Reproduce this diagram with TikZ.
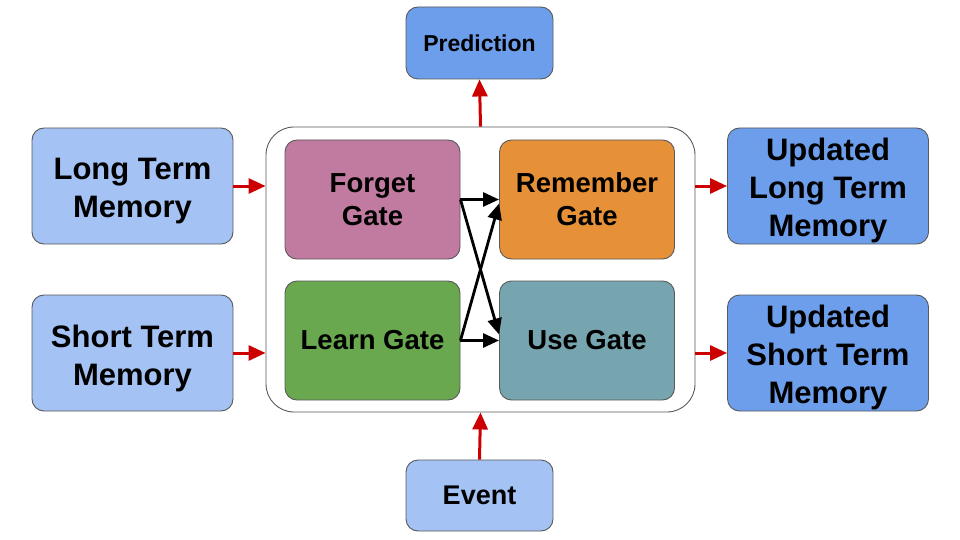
\documentclass[tikz,border=0pt]{standalone}
\usepackage{fontspec}
\setmainfont{Liberation Sans}
\usetikzlibrary{arrows.meta,calc}
\definecolor{lightblue}{HTML}{A4C2F4}
\definecolor{midblue}{HTML}{6D9EEB}
\definecolor{forgetc}{HTML}{C27BA0}
\definecolor{rememberc}{HTML}{E69138}
\definecolor{learnc}{HTML}{6AA84F}
\definecolor{usec}{HTML}{76A5AF}
\definecolor{edgec}{HTML}{595959}
\definecolor{arrowred}{HTML}{CC0000}
\tikzset{
  box/.style={draw=edgec, line width=0.9pt, rounded corners=12pt, inner sep=0pt, align=center},
  bigbox/.style={box, minimum width=201pt, minimum height=116pt},
  bigtext/.style={inner sep=0pt, align=center, font=\fontsize{31}{38}\selectfont\bfseries},
  gatebox/.style={box, minimum width=175pt, minimum height=119pt, font=\fontsize{27.5}{33}\selectfont\bfseries},
  redarrow/.style={draw=arrowred, line width=3pt, -{Triangle[length=17pt,width=15pt]}},
  blackarrow/.style={draw=black, line width=2.8pt, -{Triangle[length=16pt,width=14pt]}},
}
\begin{document}
\begin{tikzpicture}[x=1pt,y=-1pt]
\useasboundingbox (0,0) rectangle (960,540);
% container
\node[draw=edgec, line width=0.9pt, rounded corners=28pt, minimum width=429pt, minimum height=285pt, inner sep=0pt] (cont) at (480.5,269.5) {};
% side boxes
\node[bigbox, fill=lightblue] (ltm) at (132.5,186) {};
\node[bigtext] (ltmtxt) at ($(ltm.center)+(0,5)$) {Long Term\\Memory};
\node[bigbox, fill=lightblue] (stm) at (132.5,353) {};
\node[bigtext] (stmtxt) at ($(stm.center)+(0,5)$) {Short Term\\Memory};
\node[bigbox, fill=midblue] (ultm) at (828,186) {};
\node[bigtext] (ultmtxt) at ($(ultm.center)+(0,4)$) {Updated\\Long Term\\Memory};
\node[bigbox, fill=midblue] (ustm) at (828,353) {};
\node[bigtext] (ustmtxt) at ($(ustm.center)+(0,4)$) {Updated\\Short Term\\Memory};
\node[box, fill=midblue, minimum width=147pt, minimum height=72pt, font=\fontsize{23}{28}\selectfont\bfseries] (pred) at (479.5,43) {Prediction};
\node[box, fill=lightblue, minimum width=147pt, minimum height=71pt, font=\fontsize{27}{32}\selectfont\bfseries] (event) at (479.5,495.5) {Event};
% gates
\node[gatebox, fill=forgetc] (forget) at (372.5,199.5) {Forget\\Gate};
\node[gatebox, fill=rememberc] (remember) at (587,199.5) {Remember\\Gate};
\node[gatebox, fill=learnc] (learn) at (372.5,340.5) {Learn Gate};
\node[gatebox, fill=usec] (use) at (587,340.5) {Use Gate};
% red arrows
\draw[redarrow] (ltm.east) -- (ltm.east -| cont.west);
\draw[redarrow] (stm.east) -- (stm.east -| cont.west);
\draw[redarrow] (ultm.west -| cont.east) -- (ultm.west);
\draw[redarrow] (ustm.west -| cont.east) -- (ustm.west);
\draw[redarrow] (cont.north) -- (pred.south);
\draw[redarrow] (event.north) -- (cont.south);
% black arrows
\coordinate (useup) at ($(use.west)+(0,-6)$);
\coordinate (remdown) at ($(remember.west)+(0,4)$);
\draw[blackarrow] (forget.east) -- (remember.west);
\draw[blackarrow] (learn.east) -- (use.west);
\draw[blackarrow] (forget.east) -- (useup);
\draw[blackarrow] (learn.east) -- (remdown);
\end{tikzpicture}
\end{document}
